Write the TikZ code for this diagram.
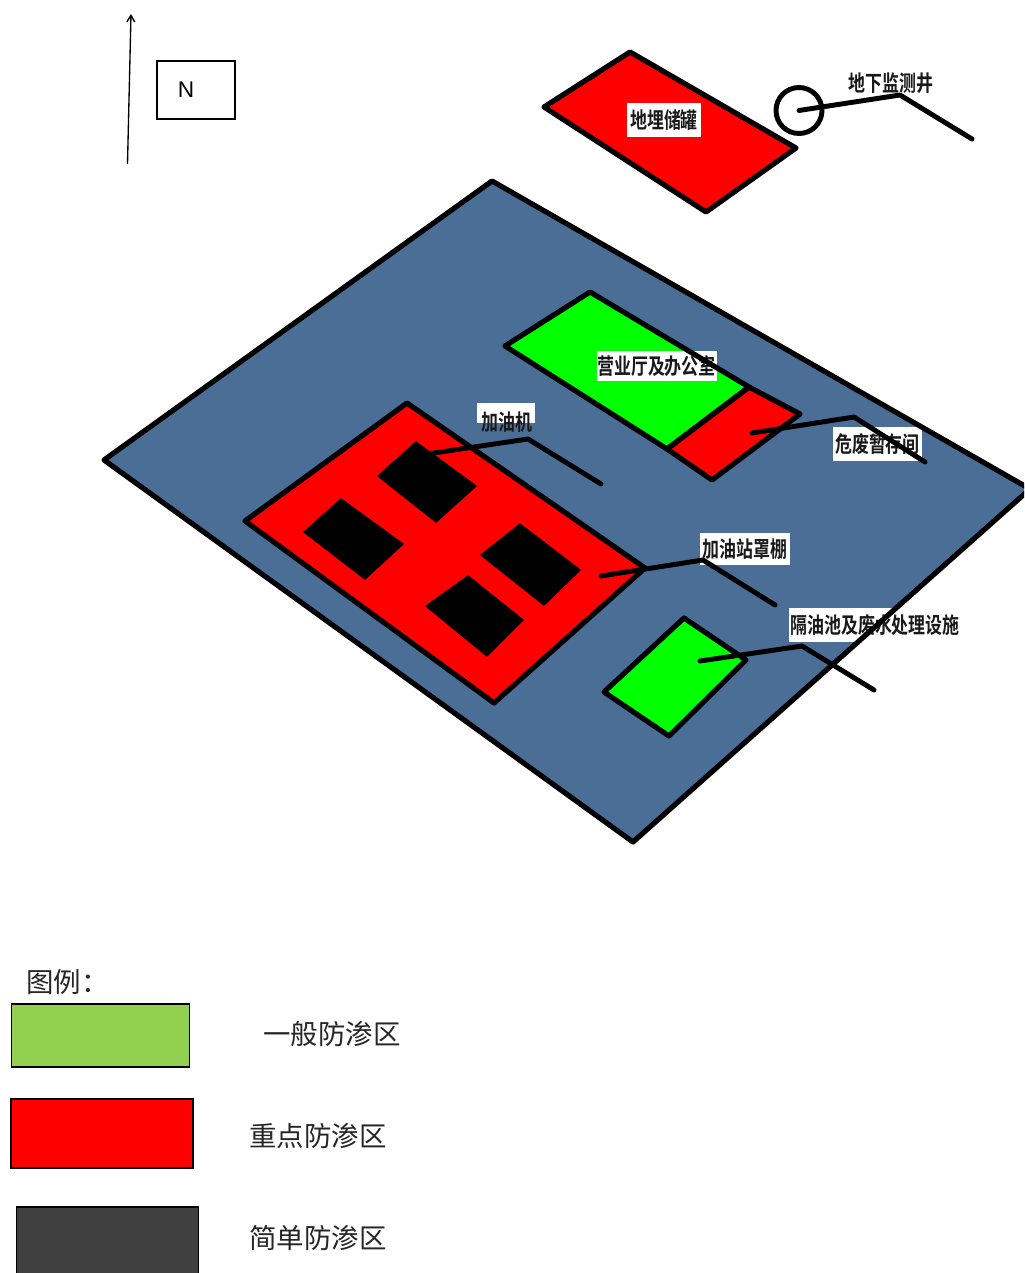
\documentclass[tikz,border=0pt]{standalone}
\usepackage{fontspec}
\usetikzlibrary{arrows.meta}
\setmainfont{Liberation Sans}
\newfontfamily\cjkb[BoldFont={* Bold}]{Noto Sans CJK SC}
\newfontfamily\cjk{Noto Sans CJK SC}
\definecolor{siteblue}{HTML}{4A6E96}
\definecolor{zonegreen}{HTML}{00FF00}
\definecolor{keygreen}{HTML}{92D050}
\definecolor{keygrey}{HTML}{404040}
\tikzset{
  zone/.style={draw=black,line width=3.9pt,line join=round},
  outlineonly/.style={draw=black,line width=3.9pt,line join=round},
  pump/.style={fill=black,draw=black,line width=1pt,line join=round},
  leader/.style={draw=black,line width=3.7pt,line cap=round,line join=round},
  tag/.style={fill=white,inner sep=0pt,font=\cjkb\bfseries\fontsize{12.7}{12.7}\selectfont,text=black!90},
  keybox/.style={draw=black,line width=1.4pt},
  keytext/.style={anchor=west,inner sep=0pt,font=\cjk\fontsize{20.6}{20.6}\selectfont,text=black!85}
}
\newcommand{\tall}[1]{\scalebox{1}[1.3]{#1}}
\begin{document}
\begin{tikzpicture}[x=0.75pt,y=-0.75pt]
\useasboundingbox (0,0) rectangle (1024,1273);
\clip (0,0) rectangle (1024,1273);
% north mark
\coordinate (arrowS) at (127.5,164);
\coordinate (arrowN) at (131,14);
\draw[black,line width=1pt,-{Straight Barb[length=5pt,width=6pt]}] (arrowS) -- (arrowN);
\node[draw=black,line width=1pt,minimum width=58.5pt,minimum height=43.5pt,inner sep=0pt,font=\fontsize{17}{17}\selectfont] (north) at (196,90) {\hspace*{-15pt}N};
% site
\path[fill=siteblue] (492,181) -- (1030,489) -- (633,842) -- (104,460) -- cycle;
% tank
\path[zone,fill=red] (630,52) -- (796,148) -- (706,212) -- (544,107) -- cycle;
% office and hazardous store
\path[fill=zonegreen] (590,292) -- (749,387) -- (667,449) -- (505,346) -- cycle;
\path[zone,fill=red] (749,387) -- (800,414) -- (712,480) -- (667,449) -- cycle;
% canopy
\path[zone,fill=red] (407,403) -- (645,568) -- (494,703) -- (245,521) -- cycle;
\path[pump] (416,442) -- (476,486) -- (436,522) -- (378,476) -- cycle;
\path[pump] (341,499) -- (403,544) -- (365,579) -- (304,532) -- cycle;
\path[pump] (520,524) -- (580,570) -- (544,605) -- (481,555) -- cycle;
\path[pump] (468,576) -- (523,620) -- (487,656) -- (426,606) -- cycle;
% separator
\path[zone,fill=zonegreen] (684,618) -- (746,660) -- (669,736) -- (604,692) -- cycle;
% label plates
\node[tag,minimum width=55.5pt,minimum height=25.5pt] (ltank) at (664,120) {\tall{地埋储罐}};
\node[tag,minimum width=90pt,minimum height=22.5pt] (loffice) at (656.5,366) {\tall{营业厅及办公室}};
\node[tag,minimum width=43.5pt,minimum height=15pt] (lpump) at (506,413) {};
\node[tag,fill=none] (lpumpt) at (507,422) {\tall{加油机}};
\node[tag,minimum width=66.5pt,minimum height=26pt] (lhaz) at (877.5,444) {\tall{危废暂存间}};
\node[tag,minimum width=67.5pt,minimum height=24pt] (lcanopy) at (745,549) {\tall{加油站罩棚}};
\node[tag,minimum width=129pt,minimum height=26pt] (lsep) at (875,625) {\tall{隔油池及废水处理设施}};
\node[tag,fill=none] (lwell) at (891,83) {\tall{地下监测井}};
% outlines that run over the plates
\path[outlineonly] (492,181) -- (1030,489) -- (633,842) -- (104,460) -- cycle;
\path[outlineonly] (590,292) -- (749,387) -- (667,449) -- (505,346) -- cycle;
\node[draw=black,line width=3.7pt,circle,minimum size=34.5pt,inner sep=0pt] (well) at (799,110.5) {};
% leaders
\coordinate (w0) at (well.center); \coordinate (w1) at (900,95); \coordinate (w2) at (972,139);
\coordinate (p0) at (420,455); \coordinate (p1) at (528,439); \coordinate (p2) at (601,484);
\coordinate (c0) at (601,576); \coordinate (c1) at (703,560); \coordinate (c2) at (775,605);
\coordinate (s0) at (700,661); \coordinate (s1) at (802,646); \coordinate (s2) at (874,690);
\coordinate (h0) at (752,433); \coordinate (h1) at (854,417); \coordinate (h2) at (925,462);
\draw[leader] (w0) -- (w1) -- (w2);
\draw[leader] (p0) -- (p1) -- (p2);
\draw[leader] (c0) -- (c1) -- (c2);
\draw[leader] (s0) -- (s1) -- (s2);
\draw[leader] (h0) -- (h1) -- (h2);
% legend
\node[keytext] (keytitle) at (26,982) {图例：};
\node[keybox,fill=keygreen,minimum width=133.5pt,minimum height=47pt,inner sep=0pt] (k1) at (100.5,1035.5) {};
\node[keybox,fill=red,minimum width=136.5pt,minimum height=51.5pt,inner sep=0pt] (k2) at (102,1133.5) {};
\node[keybox,fill=keygrey,minimum width=136.5pt,minimum height=60pt,inner sep=0pt,anchor=north west] (k3) at (15.5,1206) {};
\node[keytext] (t1) at (263,1034) {一般防渗区};
\node[keytext] (t2) at (249,1136) {重点防渗区};
\node[keytext] (t3) at (249,1238) {简单防渗区};
\end{tikzpicture}
\end{document}
